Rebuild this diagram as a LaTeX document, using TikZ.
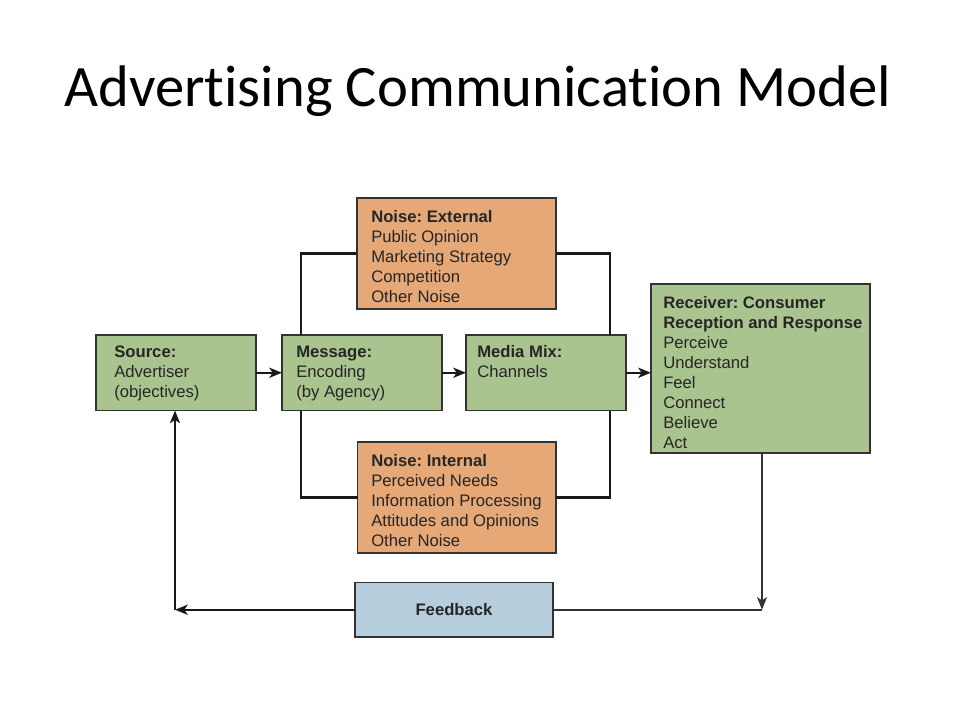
\documentclass[tikz,border=0pt]{standalone}
\usepackage{fontspec}
\setmainfont{Liberation Sans}
\newfontfamily\titlefont[Ligatures={NoCommon}]{Carlito}
\usetikzlibrary{arrows.meta,fit}
\definecolor{boxgreen}{HTML}{A9C48F}
\definecolor{boxorange}{HTML}{E6A877}
\definecolor{boxblue}{HTML}{B5CDDD}
\definecolor{boxline}{HTML}{333333}
\definecolor{txt}{HTML}{262626}
\newcommand{\fstrut}{\rule{0pt}{10pt}}
\frenchspacing
\begin{document}
\begin{tikzpicture}[x=0.75pt,y=-0.75pt,
  box/.style={draw=boxline,line width=1pt,inner sep=0pt,outer sep=0pt},
  lbl/.style={anchor=north west,inner sep=0pt,align=left,text=txt,
    font=\fontsize{12.5}{15}\selectfont},
  conn/.style={line width=1.7pt,draw=black!90},
  fbl/.style={line width=1.2pt,draw=black!80},
  arr/.style={-{Stealth[length=9.5pt,width=7.5pt,inset=2.5pt]}}]
\useasboundingbox[fill=white] (0,0) rectangle (960,720);
% title
\node[anchor=base,inner sep=0pt,font=\titlefont\fontsize{44}{52}\selectfont] (title) at (478,107) {Advertising Communication Model};
% boxes
\node[box,fill=boxgreen,fit={(96,335) (256,410.5)}] (src) {};
\node[box,fill=boxgreen,fit={(282,335) (442,410.5)}] (msg) {};
\node[box,fill=boxgreen,fit={(466,335) (626,410.5)}] (mix) {};
\node[box,fill=boxgreen,fit={(651,284) (870,453)}] (rec) {};
\node[box,fill=boxorange,fit={(357,198) (556,309)}] (nex) {};
\node[box,fill=boxorange,fit={(357.5,442) (556,553)}] (nin) {};
\node[box,fill=boxblue,fit={(355,582.5) (553,637)}] (fb) {};
% texts
\node[lbl] (srct) at (114,357-13.33) {\fstrut\textbf{Source:}\\Advertiser\\(objectives)};
\node[lbl] (msgt) at (296,357-13.33) {\fstrut\textbf{Message:}\\Encoding\\(by Agency)};
\node[lbl] (mixt) at (477,357-13.33) {\fstrut\textbf{Media Mix:}\\Channels};
\node[lbl] (rect) at (663,308-13.33) {\fstrut\textbf{Receiver: Consumer}\\\textbf{Reception and Response}\\Perceive\\Understand\\Feel\\Connect\\Believe\\Act};
\node[lbl] (next) at (371,222-13.33) {\fstrut\textbf{Noise: External}\\Public Opinion\\Marketing Strategy\\Competition\\Other Noise};
\node[lbl] (nint) at (371,466-13.33) {\fstrut\textbf{Noise: Internal}\\Perceived Needs\\Information Processing\\Attitudes and Opinions\\Other Noise};
\node[text=txt,font=\bfseries\fontsize{12.5}{15}\selectfont,inner sep=0pt] (fbt) at (fb) {Feedback};
% coordinates
\coordinate (bl) at (301,0);
\coordinate (br) at (610,0);
\coordinate (fr) at (762,0);
\coordinate (fl) at (175,0);
% main flow
\draw[conn,arr] (src) -- (msg);
\draw[conn,arr] (msg) -- (mix);
\draw[conn,arr] (mix.east) -- (mix.east -| rec.west);
% noise brackets
\draw[conn] (msg.north -| bl) |- (nex.west);
\draw[conn] (nex.east) -| (mix.north -| br);
\draw[conn] (msg.south -| bl) |- (nin.west);
\draw[conn] (nin.east) -| (mix.south -| br);
% feedback loop
\draw[fbl,arr] (rec.south -| fr) -- (fr |- fb.east);
\draw[fbl] (fr |- fb.east) -- (fb.east);
\draw[conn,arr] (fb.west) -- (fl |- fb.west);
\draw[conn,arr] (fl |- fb.west) -- (fl |- src.south);
\end{tikzpicture}
\end{document}
